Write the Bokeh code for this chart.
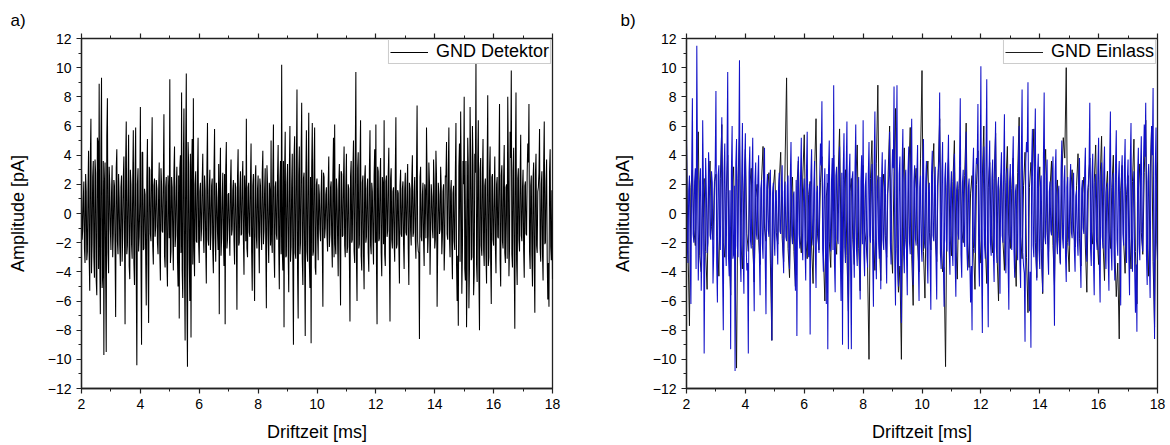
from bokeh.plotting import figure
from bokeh.layouts import row
from bokeh.models import LinearAxis, SingleIntervalTicker, Legend, LegendItem, Range1d, CustomJSTickFormatter
from bokeh.embed import file_html
from bokeh.resources import INLINE

# ---------------- data ----------------
x_label = "Driftzeit [ms]"
y_label = "Amplitude [pA]"
panel_tags = ["a)", "b)"]
legend_a = "GND Detektor"
legend_b = "GND Einlass"
x_min, x_max = 2, 18
y_min, y_max = -12, 12

# Panel a: GND Detektor. Samples at 2.00, 2.04, ... ms
det_t0 = 2.0
det_dt = 0.04
det_values = [
    3.0, -1.2, 2.2, -3.4, 1.5, -2.6, 4.3, -5.3, 6.5, -2.1, 3.6, -4.4, 2.8, -5.6, 4.9, 8.9, -6.9, 9.3, -4.2, -9.7, 3.5, -9.5, 7.9, -4.1, 2.0,
    -2.5, 3.3, -1.4, 1.9, -7.1, 4.4, -2.8, 1.1, -3.6, 2.6, -1.7, 3.9, -7.6, 6.3, -2.2, 5.4, -4.5, 2.0, -3.1, 5.7, -4.9, 5.9, -10.4, 3.1, -1.6,
    7.3, -9.0, 4.2, -2.4, 1.3, -6.3, 5.1, -7.5, 3.0, -1.9, 6.6, -3.5, 2.4, -0.9, 1.7, -2.8, 3.5, -4.6, 2.0, -1.3, 6.8, -3.7, 2.5, -5.0, 1.4,
    9.2, -2.6, 1.8, -3.9, 4.6, -1.5, 3.2, -5.0, -7.2, 4.0, 8.3, -5.8, 7.2, -8.7, 9.6, -10.5, 3.4, -6.0, -8.5, 5.1, 7.9, -4.3, 2.9, -2.0, 5.2,
    -3.4, 2.1, -1.0, 4.1, -2.7, 1.6, -4.8, 6.2, -2.2, 3.0, -1.3, 2.4, -4.1, 5.8, -3.3, 1.1, -2.5, -6.9, 4.5, -1.7, 2.8, -3.6, -7.6, 4.9, -1.8,
    1.4, -2.9, 3.7, -1.1, 2.3, -3.5, 1.8, -6.6, 4.4, -2.0, 2.9, -1.4, 3.6, -4.2, 1.2, 6.5, -3.0, 2.1, -1.6, 4.8, -5.3, 2.7, -6.0, 3.3, -2.4,
    2.6, -4.1, 1.9, -2.5, 4.3, -1.2, 3.1, -6.5, 2.0, -3.4, 1.5, 5.0, -2.7, 6.1, -4.4, 2.2, -1.8, 4.7, -5.2, 3.6, 10.2, -3.9, -7.8, 5.6, -2.9,
    3.4, -5.4, 6.0, -2.3, 4.1, -9.0, 5.3, -3.1, 8.5, -7.2, 4.6, -2.0, 7.6, -4.9, 2.8, -8.4, 5.7, -3.3, 6.9, -5.1, -8.9, 6.2, -2.6, 5.9, -4.2,
    2.4, -3.2, 1.3, -1.9, 3.0, -6.4, 2.5, -1.0, 1.8, -2.6, 3.9, -1.4, 2.2, -3.7, 5.2, 6.1, -2.8, 1.6, -4.3, 3.4, -6.3, 2.7, -1.5, 4.6, -3.0,
    4.1, -2.3, 1.7, -7.4, 3.6, -1.8, 5.0, -3.4, 9.7, -6.0, 4.2, -2.1, 6.4, -3.9, 2.6, -5.2, 3.3, -1.6, 2.4, -4.0, 5.7, -2.8, 1.5, -3.5, 4.4,
    6.1, -7.6, 2.9, -1.7, 3.8, -4.3, 2.0, 6.4, -3.6, 2.6, -1.2, 4.5, -7.4, 3.1, -2.4, 1.8, -3.3, 6.6, -2.1, 1.4, -4.8, 3.0, -1.6, 2.2, -3.8,
    2.8, -1.5, 3.4, -4.9, 1.7, -2.2, 4.0, -1.3, 2.5, -3.1, 7.4, -2.6, -8.6, 3.2, -1.9, 2.1, -3.6, 1.4, 5.9, -2.7, 3.5, -4.2, 2.0, -1.1, 3.7,
    -2.4, 4.3, -6.4, 2.1, -1.4, 3.2, -2.8, 1.5, -3.9, 2.6, 4.9, -1.8, 5.9, -3.0, 2.3, -4.5, 1.9, -2.5, 6.2, -6.0, -7.7, 4.8, 7.0, -5.5, 3.6,
    8.0, -4.6, -7.8, 5.2, -6.5, 7.3, -3.2, 6.0, -5.6, 4.1, 10.3, -4.7, 6.4, -8.0, 3.8, -2.9, 5.1, -3.6, 2.4, -4.8, 8.1, -3.0, 4.6, -6.2, 2.7,
    -2.2, 3.9, -4.1, 2.5, -1.7, 7.5, -5.0, 3.3, -2.4, 4.7, -3.4, 2.0, 8.0, -4.3, 5.6, 9.8, -3.7, 4.5, -7.9, 8.3, -4.9, 3.1, -2.6, 5.4, -1.9,
    3.0, -4.4, 2.2, -1.5, 4.8, 7.5, -3.8, 2.6, -5.0, 3.5, -6.8, 4.1, -2.7, 1.8, 5.8, -3.3, 2.9, -4.6, 6.3, -2.0, 3.7, -5.9, -6.4, 4.4, -3.2,
    -4.5,
]
# Panel a: GND Detektor. Samples at 2.02, 2.06, ... ms
det_mid_t0 = 2.02
det_mid_values = [
    -1.8, 0.9, -2.4, 2.7, -3.2, 1.6, -2.9, 3.8, -4.1, 2.5, -3.0, 3.7, -4.6, 5.2, -3.8, -2.9, 4.4, -5.1, 3.6, 2.2, -4.0, 5.3, -2.7, 3.2, -1.1,
    1.4, -3.0, 2.3, -2.6, 3.1, -1.9, 2.7, -2.2, 1.8, -3.3, 2.4, -1.5, 3.5, -2.8, 1.6, -3.6, 3.0, -2.1, 2.2, -3.4, 2.9, -4.3, 2.0, -2.6, 0.8,
    -3.1, 4.2, -2.5, 1.7, -3.0, 2.4, -3.6, 3.2, -1.4, 2.8, -2.2, 1.9, -1.6, 2.3, -2.0, 1.5, -2.7, 3.1, -1.2, 2.4, -2.9, 1.8, -3.3, 2.6, -1.7,
    -3.4, 2.5, -1.6, 2.9, -2.3, 1.8, -3.1, 2.6, 3.1, -2.7, -3.9, 3.6, -4.2, 4.4, -5.6, 4.9, -3.2, 4.1, 2.8, -3.5, -2.4, 2.0, -1.9, 2.6, -2.1,
    1.5, -1.9, 2.2, -1.4, 2.6, -2.3, 3.0, -1.8, 1.6, -2.5, 1.9, -2.6, 2.8, -1.7, 2.1, -1.3, 3.4, 2.0, -2.9, 1.1, -1.8, 2.7, 3.0, -2.4, 1.3,
    -1.2, 2.0, -1.5, 1.6, -1.9, 2.1, -1.4, 2.5, -2.2, 1.7, -1.5, 2.3, -1.8, 2.6, -1.9, -2.4, 1.8, -1.3, 2.2, -2.6, 1.9, -2.8, 2.3, -1.6, 1.7,
    -1.7, 2.4, -1.3, 2.8, -2.1, 1.6, -2.4, 3.3, -1.5, 2.1, -2.2, -1.9, 2.5, -2.6, 1.8, -1.4, 2.6, -2.3, 2.2, -2.8, -2.5, 3.6, 2.9, -3.0, 2.1,
    -2.6, 2.9, -3.3, 1.9, -3.5, 3.8, -2.7, 3.4, -4.0, 2.6, -2.8, 3.9, -3.1, 2.4, -3.0, 2.2, -2.6, 3.0, -3.4, 2.5, 3.1, -2.9, 3.3, -3.7, 2.0,
    -1.6, 2.0, -1.1, 1.4, -2.2, 2.8, -1.7, 1.3, -1.5, 2.0, -2.3, 1.8, -1.9, 2.6, -3.0, -2.1, 2.4, -1.8, 2.0, -2.5, 2.9, -1.6, 2.3, -2.2, 1.9,
    -2.7, 2.0, -3.1, 2.6, -2.0, 2.9, -2.6, 3.8, -3.3, 3.1, -2.4, 3.3, -2.9, 2.1, -2.8, 2.5, -2.0, 1.7, -2.7, 3.0, -2.2, 2.1, -1.8, 2.6, -2.0,
    -3.5, 3.2, -1.9, 2.4, -2.7, 2.5, -2.1, -2.8, 2.2, -1.6, 2.7, -3.1, 2.4, -1.8, 1.5, -2.0, 2.9, -2.4, 1.6, -2.2, 1.9, -1.4, 1.7, -2.1, 1.6,
    -1.3, 1.9, -2.4, 2.1, -1.2, 2.3, -1.6, 1.5, -1.8, 2.8, -1.9, -2.7, 2.5, -1.6, 1.3, -1.9, 2.0, -1.7, 2.4, -1.5, 2.2, -1.4, 1.2, -1.7, 2.0,
    -1.8, 2.6, -2.4, 1.3, -1.1, 1.8, -1.6, 2.0, -2.2, 2.5, -1.4, 2.9, -1.7, 1.6, -2.4, 1.4, -1.9, 2.8, -3.5, -2.9, 3.2, -3.3, 2.4, -2.6, 2.0,
    -3.8, 3.6, -4.1, 3.3, -3.7, 3.9, -3.0, 3.4, -4.2, 2.8, -3.5, 3.6, -4.4, 3.0, -2.2, 2.7, -2.5, 1.9, -2.9, 3.1, -3.6, 2.8, -3.4, 2.5, -1.8,
    1.5, -2.3, 2.0, -1.6, 2.9, -3.2, 2.6, -1.9, 2.5, -2.7, 1.8, -3.1, 3.6, -2.4, 3.8, -2.8, 2.9, -3.6, 3.9, -3.2, 2.4, -1.8, 2.6, -1.5, 1.7,
    -2.5, 1.9, -1.4, 2.8, 3.5, -2.6, 1.9, -2.9, 2.4, -3.6, 2.7, -2.2, 1.5, 2.8, -2.4, 2.0, -2.8, 3.3, -2.1, 2.2, -3.0, -3.4, 2.9, -2.3, 1.6,
]

# Panel b: GND Einlass, blue trace. Samples at 2.00, 2.05, ... ms
ein_blue_t0 = 2.0
ein_blue_dt = 0.05
ein_blue = [
    5.9, -3.4, 2.6, -6.2, 7.9, -2.0, 3.1, 11.5, -4.6, 2.2, -5.3, 6.4, -9.6, 3.8, -2.7, 4.2, -1.5, 2.9, -4.8, 1.7,
    8.4, -6.1, 3.3, -2.5, 6.6, -8.0, 4.8, -3.6, 9.7, -4.3, -9.3, 6.0, -2.8, -10.8, 5.1, -3.0, 10.5, -4.7, 6.2, -5.5,
    5.5, -3.9, -9.6, 4.6, -2.4, 5.2, -6.7, 3.5, -1.8, 4.0, -5.6, 2.3, -3.1, 4.5, -6.9, 2.7, -1.6, 3.0, -8.7, 2.1,
    -2.9, 1.6, -3.5, 2.8, -1.4, 3.3, -4.1, 2.2, -1.9, 2.6, -3.8, 4.9, -2.1, 1.5, -5.3, -8.4, 3.9, -2.4, 5.2, -3.2,
    2.4, -4.6, 5.6, -3.0, -8.3, 4.4, -2.2, 3.6, -5.1, 1.9, -2.7, 4.8, 7.7, -4.0, 3.1, -6.2, -9.3, 5.0, -2.6, 3.8,
    8.8, -5.4, 3.2, -2.1, 4.6, -6.0, -9.0, 5.5, -3.4, 6.3, -9.3, 4.1, -9.3, 2.9, -4.4, 6.1, -3.6, 2.5, -5.9, 4.0,
    6.4, -4.3, 2.8, -3.7, 4.9, -2.0, 3.4, -6.4, 7.0, -4.5, 2.6, -3.1, -5.2, 4.2, -2.5, 3.7, -4.8, 1.8, 5.6, -3.5,
    4.4, 8.7, -6.3, 8.8, -5.0, 3.9, -7.5, 5.8, -4.1, 3.0, -5.6, 4.6, -2.8, 6.5, -4.9, 3.3, -2.2, 4.7, -6.0, 2.6,
    -3.3, 5.1, -2.4, 3.6, -4.8, 2.1, -6.6, 4.3, -1.9, 3.2, -5.9, 2.7, 8.3, -3.8, 4.9, -6.4, 3.5, -2.6, 5.4, -4.2,
    2.9, -3.6, 4.1, -5.7, 2.2, -1.8, 7.9, -4.4, 3.0, -2.3, 5.6, -3.9, 2.4, -6.1, -8.0, 4.5, -2.7, 3.8, 7.5, -5.0,
    10.1, -8.2, 4.6, -3.1, 9.2, -7.8, 5.0, -2.9, 3.7, -4.7, 6.3, -3.4, 2.5, -5.5, 4.2, -2.0, 6.8, -4.1, 3.1, -6.6,
    3.4, -2.5, 5.3, -4.4, 2.0, -3.2, 6.0, -5.1, 8.5, -3.6, -8.8, 4.9, 9.0, -6.7, -9.2, 5.8, -3.0, 7.2, -4.6, 4.1,
    -3.8, 2.6, -5.4, 8.3, -2.1, 3.7, -4.2, 2.2, -1.5, 3.9, -7.7, 4.4, -2.8, 1.9, -3.5, 5.0, -2.4, 3.3, -4.7, 2.5,
    -2.2, 3.4, -1.7, 2.8, -4.0, 1.6, -2.9, 3.8, -5.1, 2.3, -1.4, 4.5, -3.3, 2.0, 7.6, -3.6, 4.1, -5.6, 2.7, -2.5,
    5.2, -6.1, 3.5, -2.4, 4.6, -3.8, 2.1, -5.3, 7.0, -3.9, 2.8, -4.6, 5.7, -2.9, 3.6, -6.3, 4.0, -2.2, 5.1, -3.4,
    3.7, -5.6, 6.2, -4.0, 2.9, -6.8, -8.1, 4.5, -3.2, 5.3, -2.6, 6.1, 7.6, -4.9, 3.4, -5.8, 6.0, 8.6, -8.6, 5.9,
    -3.2,
]
# Panel b: GND Einlass, blue trace. Samples at 2.025, 2.075, ... ms
ein_blue_mid_t0 = 2.025
ein_blue_mid = [
    -2.1, 1.6, -3.0, 2.9, -1.4, 2.2, -3.8, 2.5, -1.9, 3.1, -2.4, 1.8, -2.2, 1.5, -2.0, 2.6, -1.8, 2.1, -2.7, 3.3,
    -3.4, 2.6, -1.7, 3.5, -3.9, 2.8, -2.2, 3.7, -2.9, 1.6, 2.9, -3.1, 1.9, 3.4, -2.2, 3.8, -3.0, 2.4, -2.8, 3.0,
    -2.0, -3.4, 2.8, -1.9, 2.5, -3.0, 2.1, -1.4, 2.4, -2.9, 1.7, -2.0, 2.6, -3.3, 1.8, -1.1, 1.9, -3.6, 1.4, -1.5,
    1.3, -1.8, 1.7, -1.2, 2.0, -2.5, 1.5, -1.6, 1.9, -2.1, 2.4, -1.5, 1.2, -2.6, 2.3, 1.8, -1.4, 2.7, -2.0, 1.6,
    -2.2, 2.9, -1.8, 2.0, 2.6, -1.5, 1.7, -2.6, 1.4, -1.6, 2.5, 3.3, -2.4, 1.8, -3.1, 2.7, 3.0, -1.9, 2.2, -2.5,
    -3.3, 2.6, -1.7, 2.4, -3.0, 2.8, 3.1, -2.3, 3.0, -3.5, 2.7, -3.8, 2.4, -2.0, 3.2, -2.5, 1.6, -3.0, 2.2, -2.1,
    -2.7, 1.9, -2.2, 2.6, -1.5, 2.3, -3.0, 3.4, -2.6, 1.8, -1.9, 2.5, 2.2, -1.8, 2.0, -2.4, 1.3, 2.6, -2.0, 2.3,
    3.1, -3.4, 3.6, -3.2, 2.7, -3.5, 3.3, -2.8, 2.4, -3.0, 2.9, -2.0, 3.5, -3.1, 2.2, -1.7, 2.6, -3.3, 1.8, -2.2,
    2.7, -1.8, 2.2, -2.9, 1.7, -3.2, 2.8, -1.5, 2.0, -3.1, 1.9, 3.6, -2.7, 2.9, -3.3, 2.4, -1.8, 2.9, -2.6, 1.7,
    -2.3, 2.6, -3.2, 1.6, -1.4, 3.5, -2.8, 2.1, -1.7, 3.0, -2.5, 1.8, -3.4, -3.6, 2.8, -1.9, 2.6, 3.4, -3.0, 2.4,
    -3.9, 3.1, -2.2, 3.8, -3.4, 2.9, -2.0, 2.4, -2.8, 3.5, -2.3, 1.8, -3.0, 2.6, -1.5, 3.2, -2.9, 2.0, -3.5, 2.2,
    -1.8, 3.0, -2.6, 1.5, -2.1, 3.2, -3.3, 4.0, -2.7, -4.1, 3.5, 4.2, -3.8, -4.0, 3.6, -2.2, 3.8, -3.0, 2.7, -2.5,
    2.1, -3.1, 3.8, -1.6, 2.4, -2.8, 1.5, -1.2, 2.6, -3.5, 2.9, -1.9, 1.4, -2.3, 3.0, -1.7, 2.2, -2.9, 1.8, -1.6,
    2.0, -1.3, 1.9, -2.5, 1.2, -1.8, 2.4, -3.0, 1.7, -1.0, 2.8, -2.2, 1.5, 3.4, -2.4, 2.6, -3.2, 1.9, -1.8, 3.1,
    -3.5, 2.2, -1.6, 2.9, -2.5, 1.4, -3.2, 3.6, -2.4, 1.9, -2.8, 3.3, -1.8, 2.4, -3.4, 2.7, -1.4, 3.0, -2.2, 2.3,
    -3.0, 3.6, -2.7, 1.9, -3.9, -3.5, 2.8, -2.1, 3.2, -1.7, 3.6, 3.9, -2.9, 2.2, -3.3, 3.5, 4.0, -3.6, 3.2, -2.0,
]

# Panel b: GND Einlass, dark trace. Samples at 2.0, 2.1, ... ms
ein_dark_t0 = 2.0
ein_dark_dt = 0.1
ein_dark = [
    4.8, -7.7, 3.0, -2.2, 5.6, -4.0, 2.4, -5.2, 3.6, -1.8,
    2.7, -4.3, 6.1, -3.0, 4.0, -5.6, 3.2, -10.6, 5.3, -3.8,
    4.4, -2.6, 3.1, -4.7, 2.0, -3.5, 4.6, -1.9, 2.8, -8.7,
    3.0, -2.1, 4.2, -3.3, 9.3, -4.4, 2.5, -5.0, 3.6, -2.7,
    5.4, -3.1, 2.2, -4.8, 6.5, -2.5, 3.9, -6.0, 2.1, -3.7,
    4.0, -2.8, 5.8, -4.2, 3.0, -6.7, 2.4, -3.5, 4.7, -5.3,
    3.3, -2.0, -10.0, 5.0, -3.9, 8.8, -4.6, 2.7, -3.0, 6.0,
    -4.1, 7.2, -5.4, -10.0, 4.5, -3.2, 5.9, -6.3, 3.1, -4.0,
    9.8, -5.8, 3.6, -2.5, 4.8, -3.3, 6.5, -4.0, -10.5, 3.8,
    -2.9, 5.0, -4.5, 3.2, -2.0, 6.2, -3.7, 2.6, -5.2, 4.3,
    -3.4, 6.0, -4.8, 3.5, -2.7, 5.5, -6.0, 2.8, -3.9, 4.6,
    -2.4, 3.8, -5.0, 6.6, -3.1, 4.2, -6.8, 3.5, 5.8, -4.4,
    3.2, -5.5, 4.4, -2.6, 3.6, -4.9, 2.3, -3.4, 5.2, 10.0,
    -4.0, 3.0, -2.3, 4.1, -3.6, 2.5, -5.4, 3.8, -2.1, 4.7,
    -3.5, 5.3, -4.6, 2.9, -2.4, 4.0, -5.7, -8.6, 3.3, -4.1,
    2.6, -3.8, 5.1, -6.2, 3.4, -2.8, 6.4, -4.3, 6.0, -7.8,
    3.5,
]
# Panel b: GND Einlass, dark trace. Samples at 2.05, 2.15, ... ms
ein_dark_mid_t0 = 2.05
ein_dark_mid = [
    -2.3, 1.8, -1.1, 2.6, -2.9, 1.4, -2.6, 1.9, -0.9, 2.2,
    -1.6, 2.4, -2.0, 1.5, -2.7, 1.9, -3.8, 2.4, -2.1, 1.6,
    -1.4, 1.9, -2.2, 1.1, -1.8, 2.3, -1.0, 1.6, -3.4, 1.8,
    -1.3, 2.2, -1.7, 3.6, -2.4, 1.4, -2.6, 1.9, -1.5, 2.5,
    -1.8, 1.3, -2.3, 2.8, -1.4, 2.1, -2.7, 1.2, -1.9, 2.0,
    -1.6, 2.5, -2.0, 1.7, -2.9, 1.5, -1.8, 2.3, -2.4, 1.9,
    -1.2, -3.5, 2.4, -1.7, 3.4, -2.2, 1.6, -1.5, 2.7, -2.0,
    2.9, -2.4, -3.6, 2.1, -1.8, 2.6, -2.9, 1.7, -2.1, 3.8,
    -2.6, 1.9, -1.3, 2.3, -1.7, 2.8, -1.9, -3.7, 1.8, -1.5,
    2.2, -2.1, 1.7, -1.2, 2.6, -1.9, 1.4, -2.4, 2.0, -1.7,
    2.5, -2.2, 1.8, -1.5, 2.4, -2.8, 1.6, -1.9, 2.1, -1.4,
    1.7, -2.3, 2.8, -1.6, 1.9, -3.0, 1.8, 2.6, -2.0, 1.5,
    -2.4, 2.0, -1.3, 1.8, -2.2, 1.2, -1.7, 2.3, 3.8, -2.0,
    1.6, -1.2, 1.9, -1.7, 1.3, -2.3, 1.8, -1.1, 2.1, -1.6,
    2.3, -2.0, 1.4, -1.2, 1.8, -2.5, -3.4, 1.6, -1.9, 1.3,
    -1.7, 2.2, -2.6, 1.6, -1.3, 2.8, -1.9, 2.7, -3.3, 1.8,
]

FONT = "Liberation Sans"


def merged_trace(parts):
    """parts: list of (t0, dt, values); returns time-sorted x, y."""
    pts = []
    for t0, dt, vals in parts:
        pts.extend((t0 + dt * i, v) for i, v in enumerate(vals))
    pts.sort(key=lambda q: q[0])
    return [q[0] for q in pts], [q[1] for q in pts]


def make_panel(tag, left_border, right_border, tag_offset):
    p = figure(
        frame_width=471, frame_height=350,
        min_border_left=left_border, min_border_right=right_border,
        min_border_top=38, min_border_bottom=57,
        x_range=Range1d(x_min, x_max), y_range=Range1d(y_min, y_max),
        output_backend="svg", toolbar_location=None, tools="",
        x_axis_label=x_label, y_axis_label=y_label,
    )
    p.grid.visible = False
    p.outline_line_color = "#222222"
    p.outline_line_width = 1.3
    p.background_fill_color = "white"
    p.border_fill_color = "white"

    p.title.text = tag
    p.title.align = "left"
    p.title.offset = tag_offset
    p.title.text_font = FONT
    p.title.text_font_size = "17px"
    p.title.text_font_style = "normal"
    p.title.text_color = "black"
    p.title.standoff = 8

    for ax in (p.xaxis[0], p.yaxis[0]):
        ax.ticker = SingleIntervalTicker(interval=2, num_minor_ticks=2)
        ax.major_tick_in = 0
        ax.major_tick_out = 5
        ax.minor_tick_in = 0
        ax.minor_tick_out = 3
        ax.axis_line_color = "#222222"
        ax.axis_line_width = 1.3
        ax.major_tick_line_color = "#222222"
        ax.major_tick_line_width = 1.2
        ax.minor_tick_line_color = "#222222"
        ax.major_label_text_font = FONT
        ax.major_label_text_font_size = "14px"
        ax.major_label_text_color = "black"
        ax.axis_label_text_font = FONT
        ax.axis_label_text_font_size = "18px"
        ax.axis_label_text_font_style = "normal"
        ax.axis_label_text_color = "black"
        ax.major_label_standoff = 5
    p.xaxis[0].axis_label_standoff = 10
    p.yaxis[0].axis_label_standoff = 17

    top = LinearAxis(ticker=SingleIntervalTicker(interval=2, num_minor_ticks=2),
                     formatter=CustomJSTickFormatter(code="return ''"))
    top.major_tick_in = 0
    top.major_tick_out = 5
    top.minor_tick_in = 0
    top.minor_tick_out = 3
    top.major_label_standoff = 0
    top.axis_line_color = "#222222"
    top.major_tick_line_color = "#222222"
    top.major_tick_line_width = 1.2
    top.minor_tick_line_color = "#222222"
    p.add_layout(top, "above")
    return p


pa = make_panel(panel_tags[0], 81, 33, -71)
ax_, ay_ = merged_trace([(det_t0, det_dt, det_values), (det_mid_t0, det_dt, det_mid_values)])
ra = pa.line(ax_, ay_, line_color="#000000", line_width=1.05)

pb = make_panel(panel_tags[1], 101, 13, -66)
dx_, dy_ = merged_trace([(ein_dark_t0, ein_dark_dt, ein_dark), (ein_dark_mid_t0, ein_dark_dt, ein_dark_mid)])
bx_, by_ = merged_trace([(ein_blue_t0, ein_blue_dt, ein_blue), (ein_blue_mid_t0, ein_blue_dt, ein_blue_mid)])
rb_dark = pb.line(dx_, dy_, line_color="#111111", line_width=0.95)
rb_blue = pb.line(bx_, by_, line_color="#1212c8", line_width=1.05)

for p, r, name in ((pa, ra, legend_a), (pb, rb_dark, legend_b)):
    leg = Legend(items=[LegendItem(label=name, renderers=[r])], location="top_right")
    leg.margin = 1
    leg.padding = 1
    leg.label_text_font = FONT
    leg.label_text_font_size = "18px"
    leg.label_text_color = "black"
    leg.label_height = 14
    leg.glyph_width = 38
    leg.glyph_height = 14
    leg.label_standoff = 8
    leg.border_line_color = "#9a9a9a"
    leg.border_line_width = 1
    leg.background_fill_color = "white"
    leg.background_fill_alpha = 1.0
    p.add_layout(leg)

layout = row(pa, pb)
open("out.html", "w").write(file_html(layout, INLINE))
